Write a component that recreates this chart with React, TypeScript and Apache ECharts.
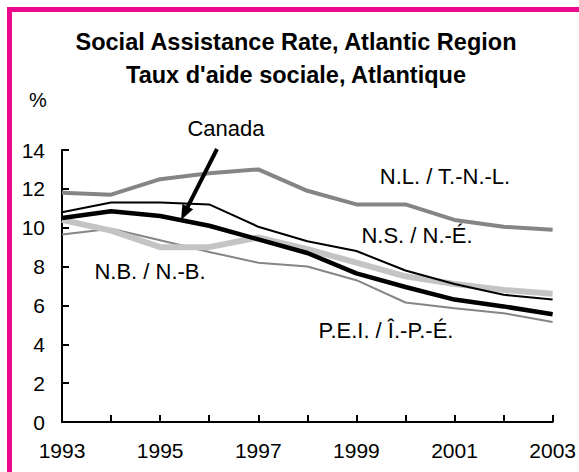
import React, { useEffect, useRef } from "react";
import * as echarts from "echarts";

const years = ["1993", "1994", "1995", "1996", "1997", "1998", "1999", "2000", "2001", "2002", "2003"];
const nl = [11.8, 11.7, 12.5, 12.8, 13.0, 11.9, 11.2, 11.2, 10.4, 10.05, 9.9];
const ns = [10.8, 11.3, 11.3, 11.2, 10.05, 9.3, 8.8, 7.8, 7.1, 6.55, 6.3];
const canada = [10.5, 10.85, 10.6, 10.1, 9.4, 8.7, 7.65, 6.95, 6.3, 5.95, 5.55];
const nb = [10.4, 9.85, 9.0, 9.0, 9.5, 8.9, 8.2, 7.5, 7.1, 6.8, 6.6];
const pei = [9.65, 9.95, 9.35, 8.75, 8.2, 8.0, 7.3, 6.15, 5.85, 5.6, 5.15];

const titleLines = ["Social Assistance Rate, Atlantic Region", "Taux d'aide sociale, Atlantique"];
const FONT = "'Liberation Sans', Arial, Helvetica, sans-serif";
const PINK = "#ec098d";

export default function App() {
  const ref = useRef<HTMLDivElement>(null);
  useEffect(() => {
    if (!ref.current) return;
    const chart = echarts.init(ref.current, null, { renderer: "svg" });
    const lbl = (text: string, x: number, y: number) => ({
      type: "text",
      x,
      y,
      style: { text, fill: "#000", font: `22px ${FONT}`, textAlign: "center", textVerticalAlign: "middle" },
      z: 10,
    });
    // arrow geometry
    const sx = 217, sy = 149, tx = 181, ty = 220;
    const dx = tx - sx, dy = ty - sy;
    const len = Math.sqrt(dx * dx + dy * dy);
    const ux = dx / len, uy = dy / len;
    const hl = 15, hw = 6;
    const bx = tx - ux * hl, by = ty - uy * hl;
    chart.setOption({
      animation: false,
      backgroundColor: "#fff",
      textStyle: { fontFamily: FONT },
      grid: { left: 62, right: 24, top: 150, bottom: 50, containLabel: false },
      xAxis: {
        type: "category",
        data: years,
        boundaryGap: false,
        axisLine: { lineStyle: { color: "#000", width: 2 } },
        axisTick: { inside: true, length: 7, interval: 0, lineStyle: { color: "#000", width: 2 } },
        axisLabel: { interval: 1, color: "#000", fontSize: 21, margin: 18, fontFamily: FONT },
        splitLine: { show: false },
      },
      yAxis: {
        type: "value",
        min: 0,
        max: 14,
        interval: 2,
        axisLine: { show: true, lineStyle: { color: "#000", width: 2 } },
        axisTick: { show: true, inside: true, length: 7, lineStyle: { color: "#000", width: 2 } },
        axisLabel: { color: "#000", fontSize: 21, margin: 17, fontFamily: FONT },
        splitLine: { show: false },
      },
      series: [
        { name: "N.L.", type: "line", data: nl, symbol: "none", lineStyle: { color: "#858585", width: 4 }, z: 2 },
        { name: "P.E.I.", type: "line", data: pei, symbol: "none", lineStyle: { color: "#858585", width: 2 }, z: 3 },
        { name: "N.B.", type: "line", data: nb, symbol: "none", lineStyle: { color: "#c4c4c4", width: 6 }, z: 4 },
        { name: "N.S.", type: "line", data: ns, symbol: "none", lineStyle: { color: "#000", width: 2 }, z: 5 },
        { name: "Canada", type: "line", data: canada, symbol: "none", lineStyle: { color: "#000", width: 4.5 }, z: 6 },
      ],
      graphic: [
        { type: "rect", shape: { x: 7, y: 7, width: 572, height: 5 }, style: { fill: PINK }, z: 20 },
        { type: "rect", shape: { x: 7, y: 7, width: 5, height: 465 }, style: { fill: PINK }, z: 20 },
        {
          type: "text", x: 296, y: 42,
          style: { text: titleLines[0], fill: "#000", font: `bold 23.5px ${FONT}`, textAlign: "center", textVerticalAlign: "middle" },
        },
        {
          type: "text", x: 296, y: 75,
          style: { text: titleLines[1], fill: "#000", font: `bold 23.5px ${FONT}`, textAlign: "center", textVerticalAlign: "middle" },
        },
        {
          type: "text", x: 38, y: 100,
          style: { text: "%", fill: "#000", font: `20px ${FONT}`, textAlign: "center", textVerticalAlign: "middle" },
        },
        lbl("Canada", 226, 128),
        lbl("N.L. / T.-N.-L.", 445, 176),
        lbl("N.S. / N.-É.", 417, 235),
        lbl("N.B. / N.-B.", 150, 271),
        lbl("P.E.I. / Î.-P.-É.", 386, 330),
        {
          type: "line",
          shape: { x1: sx, y1: sy, x2: bx + ux * 2, y2: by + uy * 2 },
          style: { stroke: "#000", lineWidth: 4 },
          z: 10,
        },
        {
          type: "polygon",
          shape: {
            points: [
              [tx, ty],
              [bx - uy * hw, by + ux * hw],
              [bx + uy * hw, by - ux * hw],
            ],
          },
          style: { fill: "#000" },
          z: 10,
        },
      ],
    });
    return () => chart.dispose();
  }, []);
  return <div ref={ref} style={{ position: "fixed", left: 0, top: 0, width: 579, height: 472 }} />;
}
